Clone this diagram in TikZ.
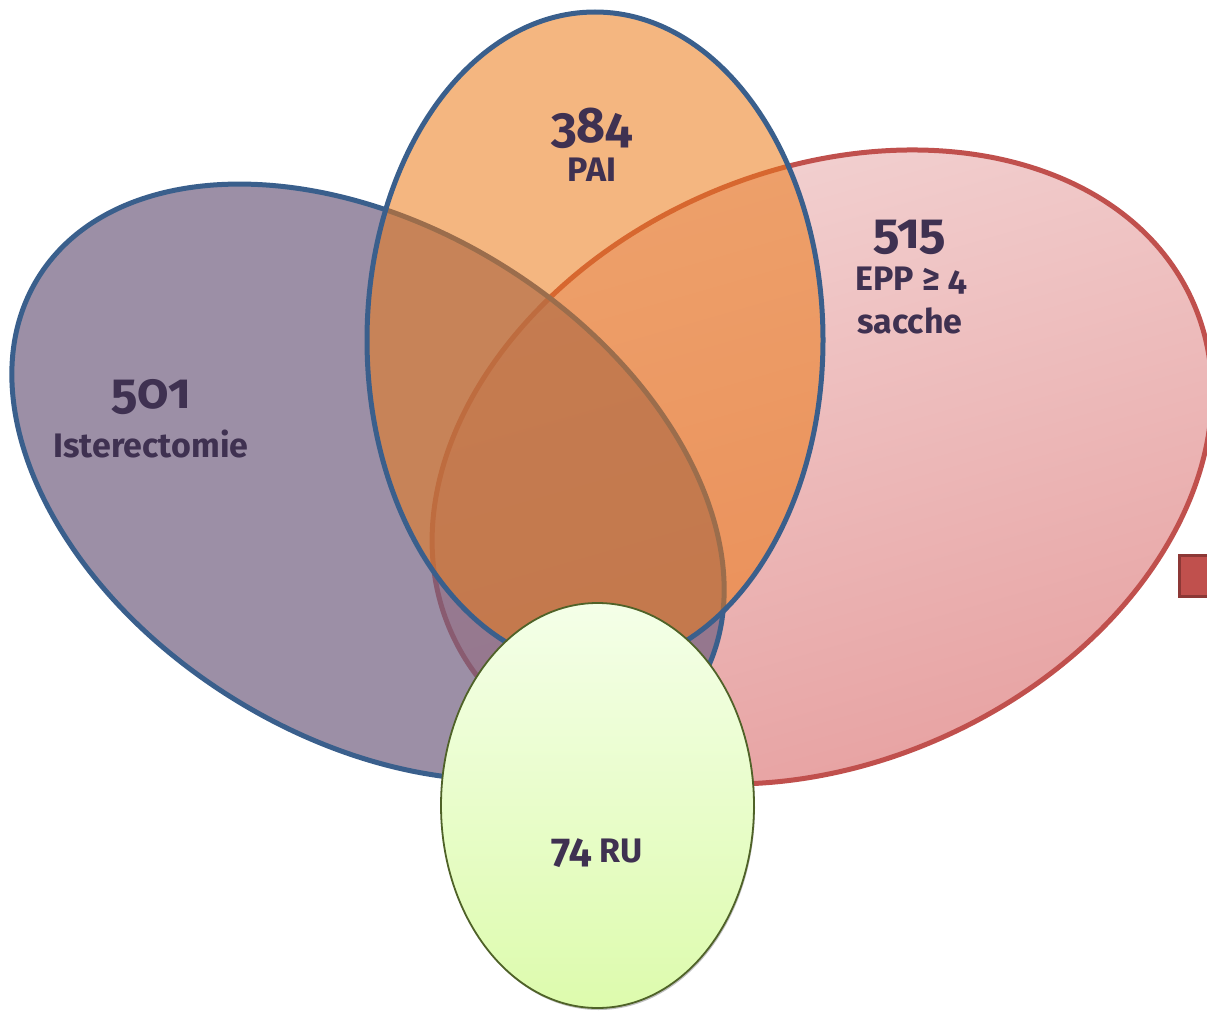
\documentclass[tikz,border=0pt]{standalone}
\usepackage{fontspec}
\setmainfont{Fira Sans}[Numbers=OldStyle]
\definecolor{txt}{RGB}{63,49,81}
\definecolor{bluebd}{RGB}{58,95,140}
\definecolor{purplef}{RGB}{114,96,128}
\definecolor{orangef}{RGB}{235,122,24}
\definecolor{pinkbd}{RGB}{192,80,77}
\definecolor{pinkA}{RGB}{243,212,212}
\definecolor{pinkB}{RGB}{230,158,158}
\definecolor{greenA}{RGB}{244,255,232}
\definecolor{greenB}{RGB}{221,251,173}
\definecolor{greenbd}{RGB}{79,98,40}
\definecolor{sqf}{RGB}{192,80,77}
\definecolor{sqbd}{RGB}{140,56,54}
\begin{document}
\begin{tikzpicture}[x=1pt,y=1pt,
  lab/.style={text=txt, font=\bfseries\fontsize{34}{34}\selectfont, inner sep=0pt, anchor=base},
  num/.style={text=txt, font=\bfseries\fontsize{50}{50}\selectfont, inner sep=0pt, anchor=base},
  setbd/.style={line width=5pt}]
\useasboundingbox (0,0) rectangle (1207,-1011);
\clip (0,0) rectangle (1207,-1011);
% EPP (pink)
\shadedraw[rotate around={24.1:(822,-467)}, top color=pinkA, bottom color=pinkB, shading angle=16, draw=pinkbd, setbd]
  (822,-467) ellipse [x radius=406, y radius=296];
% Isterectomie (purple)
\filldraw[rotate around={-31.8:(368,-482)}, fill=purplef, fill opacity=0.7, draw=bluebd, setbd]
  (368,-482) ellipse [x radius=388, y radius=255];
% PAI (orange)
\filldraw[fill=orangef, fill opacity=0.55, draw=bluebd, setbd]
  (595,-340) ellipse [x radius=228, y radius=328];
% RU (green)
\fill[black, opacity=0.25] (598.5,-807.5) ellipse [x radius=156.5, y radius=202.5];
\shadedraw[top color=greenA, middle color=greenB, bottom color=greenB, draw=greenbd, line width=1.8pt]
  (597.5,-805.5) ellipse [x radius=156.5, y radius=202.5];
% red square
\filldraw[fill=sqf, draw=sqbd, line width=3pt] (1179.5,-555.5) rectangle (1215,-596.5);
% labels
\node[num] (n384) at (592,-143) {384};
\node[lab] (lPAI) at (592,-182) {PAI};
\node[num] (n515) at (910,-248) {515};
\node[lab] (lEPP) at (911,-290) {EPP ≥ 4};
\node[lab] (lsac) at (910,-333) {sacche};
\node[num] (n501) at (151,-408) {501};
\node[lab] (list) at (151,-457) {Isterectomie};
\node[lab] (lRU) at (597,-862) {{\fontsize{41}{41}\selectfont 74} RU};
\end{tikzpicture}
\end{document}
